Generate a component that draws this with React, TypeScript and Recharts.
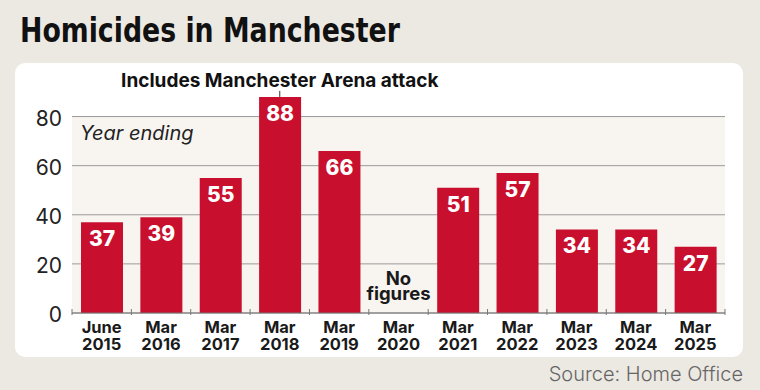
import { BarChart, Bar, XAxis, YAxis, CartesianGrid, ReferenceDot, LabelList } from "recharts"

const months = ["June", "Mar", "Mar", "Mar", "Mar", "Mar", "Mar", "Mar", "Mar", "Mar", "Mar"]
const years = ["2015", "2016", "2017", "2018", "2019", "2020", "2021", "2022", "2023", "2024", "2025"]
const homicides = [37, 39, 55, 88, 66, null, 51, 57, 34, 34, 27]
const yTicks = [0, 20, 40, 60, 80]

const data = months.map((m, i) => ({ period: m + " " + years[i], value: homicides[i] }))

const FONT = "Inter, 'Noto Sans', sans-serif"
const RED = "#c8102e"
const TINT = "#f8f5f1"

const XTick = (props: any) => {
  const { x, y, payload, index, width, visibleTicksCount } = props
  const step = width && visibleTicksCount ? width / visibleTicksCount : 59.4
  const [m, yr] = String(payload.value).split(" ")
  const last = index === visibleTicksCount - 1
  return (
    <g>
      <line x1={x - step / 2} x2={x - step / 2} y1={y - 6} y2={y} stroke="#777" />
      {last && <line x1={x + step / 2} x2={x + step / 2} y1={y - 6} y2={y} stroke="#777" />}
      <text x={x} y={y + 18} textAnchor="middle" fontFamily={FONT} fontSize={16.5} fontWeight={700} fill="#1a1a1a">{m}</text>
      <text x={x} y={y + 35} textAnchor="middle" fontFamily={FONT} fontSize={16.5} fontWeight={700} fill="#1a1a1a">{yr}</text>
    </g>
  )
}

const NoFigures = (props: any) => {
  const vb = props.viewBox || {}
  const cx = vb.x + (vb.width || 0) / 2
  const cy = vb.y + (vb.height || 0) / 2
  return (
    <g>
      <text x={cx} y={cy - 28} textAnchor="middle" fontFamily={FONT} fontSize={18.5} fontWeight={700} fill="#1a1a1a">No</text>
      <text x={cx} y={cy - 13} textAnchor="middle" fontFamily={FONT} fontSize={18.5} fontWeight={700} fill="#1a1a1a">figures</text>
    </g>
  )
}

const ArenaNote = (props: any) => {
  const vb = props.viewBox || {}
  const cx = vb.x + (vb.width || 0) / 2
  const cy = vb.y + (vb.height || 0) / 2
  return (
    <g>
      <line x1={cx} x2={cx} y1={cy} y2={cy - 6} stroke="#333" />
      <text x={cx} y={cy - 10} textAnchor="middle" fontFamily={FONT} fontSize={19} fontWeight={700} fill="#111">
        Includes Manchester Arena attack
      </text>
    </g>
  )
}

export default function App() {
  return (
    <div style={{ position: "absolute", left: 0, top: 0, width: 760, height: 390, background: "#ece8e2", overflow: "hidden", fontFamily: FONT }}>
      <div style={{ position: "absolute", left: 20, top: 10, fontFamily: "'Liberation Sans Narrow', 'DejaVu Sans Condensed', sans-serif", fontWeight: 700, fontSize: 34, lineHeight: "40px", color: "#111", transform: "scaleX(0.875)", transformOrigin: "left center", whiteSpace: "nowrap" }}>
        Homicides in Manchester
      </div>
      <div style={{ position: "absolute", left: 15, top: 63, width: 728, height: 294, background: "#fff", borderRadius: 10 }} />
      <div style={{ position: "absolute", left: 0, top: 0 }}>
        <BarChart width={760} height={390} data={data} margin={{ top: 92, right: 35, left: 12, bottom: 27 }}>
          <CartesianGrid vertical={false} stroke="#9a9a9a" syncWithTicks
            horizontalFill={["transparent", TINT, TINT, TINT, TINT]} fillOpacity={1} />
          <XAxis dataKey="period" tick={<XTick />} tickLine={false} tickSize={0} height={50} axisLine={{ stroke: "#777" }} interval={0} />
          <YAxis domain={[0, 90]} ticks={yTicks} width={60} tickLine={false} axisLine={false} tickSize={0} tickMargin={10}
            tick={{ fontFamily: FONT, fontSize: 21, fill: "#222", dy: 2 }} />
          <Bar dataKey="value" fill={RED} barSize={42} isAnimationActive={false}>
            <LabelList dataKey="value" position="insideTop" offset={9} fill="#fff" fontFamily={FONT} fontSize={21} fontWeight={800} />
          </Bar>
          <ReferenceDot x="Mar 2018" y={88} r={1} fill="none" stroke="none" label={<ArenaNote />} />
          <ReferenceDot x="Mar 2020" y={0} r={1} fill="none" stroke="none" label={<NoFigures />} />
        </BarChart>
      </div>
      <div style={{ position: "absolute", left: 80, top: 121, fontSize: 20, fontStyle: "italic", color: "#222", lineHeight: "24px" }}>Year ending</div>
      <div style={{ position: "absolute", right: 17, top: 361, fontSize: 20, fontWeight: 300, color: "#666", lineHeight: "26px" }}>Source: Home Office</div>
    </div>
  )
}
